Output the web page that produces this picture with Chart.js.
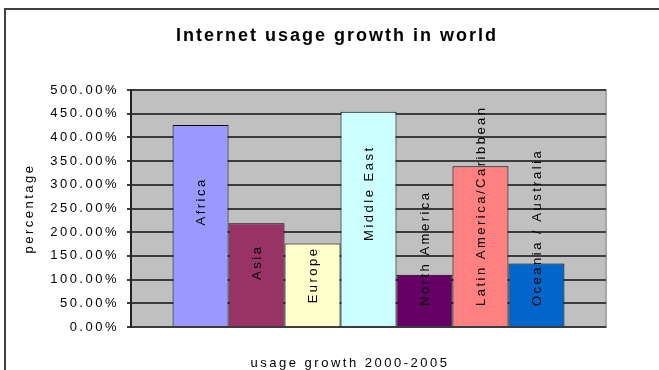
<!DOCTYPE html>
<html>
<head>
<meta charset="utf-8">
<title>Internet usage growth in world</title>
<script src="https://cdn.jsdelivr.net/npm/chart.js@4.4.1/dist/chart.umd.min.js"></script>
<style>
  html, body {
    margin: 0;
    padding: 0;
    background: #ffffff;
  }
  #chart {
    display: block;
  }
</style>
</head>
<body>
<canvas id="chart" width="659" height="370"></canvas>
<script>
// Data
const regions = [
  "Africa",
  "Asia",
  "Europe",
  "Middle East",
  "North America",
  "Latin America/Caribbean",
  "Oceania / Australia",
];
const growth = [426, 219, 176, 454, 110, 339, 134];
const regionColors = [
  "#9999FF",
  "#993366",
  "#FFFFCC",
  "#CCFFFF",
  "#660066",
  "#FF8080",
  "#0066CC",
];
const yTicks = [0, 50, 100, 150, 200, 250, 300, 350, 400, 450, 500];

const FONT = "'Liberation Sans', Arial, sans-serif";
const SPACING = "2.5px";

// Old Excel export look: wide letter spacing everywhere
const spacingPlugin = {
  id: "spacing",
  beforeUpdate: function (chart) {
    chart.ctx.letterSpacing = SPACING;
  },
  beforeDraw: function (chart) {
    chart.ctx.letterSpacing = SPACING;
  },
};

// Chart frame, grey plot area, titles
const framePlugin = {
  id: "frame",
  beforeDraw: function (chart) {
    const ctx = chart.ctx;
    const a = chart.chartArea;
    ctx.save();
    ctx.strokeStyle = "#404040";
    ctx.lineWidth = 2;
    ctx.strokeRect(5, 9, 720, 420);

    ctx.fillStyle = "#C0C0C0";
    ctx.fillRect(a.left, a.top, a.right - a.left, a.bottom - a.top);
    ctx.strokeStyle = "#A6A6A6";
    ctx.lineWidth = 2;
    ctx.strokeRect(a.left, a.top, a.right - a.left, a.bottom - a.top);
    ctx.restore();
  },
  afterDraw: function (chart) {
    const ctx = chart.ctx;
    ctx.save();
    ctx.fillStyle = "#000000";
    ctx.textAlign = "center";
    ctx.textBaseline = "alphabetic";

    ctx.letterSpacing = "2px";
    ctx.font = "bold 18px " + FONT;
    ctx.fillText("Internet usage growth in world", 337, 41);

    ctx.letterSpacing = SPACING;
    ctx.font = "13px " + FONT;
    ctx.fillText("usage growth 2000-2005", 350, 367);
    ctx.restore();
  },
};

// Series names written up the bars
const barLabelPlugin = {
  id: "barLabels",
  afterDatasetsDraw: function (chart) {
    const ctx = chart.ctx;
    ctx.save();
    ctx.font = "13px " + FONT;
    ctx.letterSpacing = SPACING;
    ctx.fillStyle = "#000000";
    ctx.textAlign = "center";
    ctx.textBaseline = "middle";
    chart.data.datasets.forEach(function (ds, i) {
      const bar = chart.getDatasetMeta(i).data[0];
      const h = bar.base - bar.y;
      const w = ctx.measureText(ds.label).width;
      let mid = (bar.y + bar.base) / 2 - 0.12 * h;
      if (w > h || mid + w / 2 > bar.base - 20) {
        mid = bar.base - 20 - w / 2;
      }
      ctx.save();
      ctx.translate(bar.x, mid);
      ctx.rotate(-Math.PI / 2);
      ctx.fillText(ds.label, 0, 1);
      ctx.restore();
    });
    ctx.restore();
  },
};

const datasets = regions.map(function (name, i) {
  return {
    label: name,
    data: [growth[i]],
    backgroundColor: regionColors[i],
    borderColor: "#000000",
    borderWidth: 1,
    categoryPercentage: 0.825,
    barPercentage: 1,
  };
});

const chart = new Chart(document.getElementById("chart"), {
  type: "bar",
  data: {
    labels: [""],
    datasets: datasets,
  },
  options: {
    responsive: false,
    animation: false,
    layout: {
      padding: { left: 8, top: 90, right: 53, bottom: 0 },
    },
    plugins: {
      legend: { display: false },
      title: { display: false },
      tooltip: { enabled: false },
    },
    scales: {
      x: {
        grid: { display: false },
        border: { display: false },
        ticks: { display: false },
        afterFit: function (scale) {
          scale.height = 43;
        },
      },
      y: {
        min: 0,
        max: 500,
        afterBuildTicks: function (scale) {
          scale.ticks = yTicks.map(function (v) {
            return { value: v };
          });
        },
        afterFit: function (scale) {
          scale.width = 123;
        },
        grid: {
          color: "#3C3C3C",
          lineWidth: 2,
          drawTicks: true,
          tickLength: 4,
          tickColor: "#3C3C3C",
          tickWidth: 2,
        },
        border: {
          display: true,
          color: "#222222",
          width: 2,
        },
        ticks: {
          padding: 8,
          color: "#000000",
          font: { family: FONT, size: 13 },
          callback: function (value) {
            return value.toFixed(2) + "%";
          },
        },
        title: {
          display: true,
          text: "percentage",
          color: "#000000",
          font: { family: FONT, size: 13 },
          padding: { top: 14, bottom: 0 },
        },
      },
    },
  },
  plugins: [spacingPlugin, framePlugin, barLabelPlugin],
});
</script>
</body>
</html>
